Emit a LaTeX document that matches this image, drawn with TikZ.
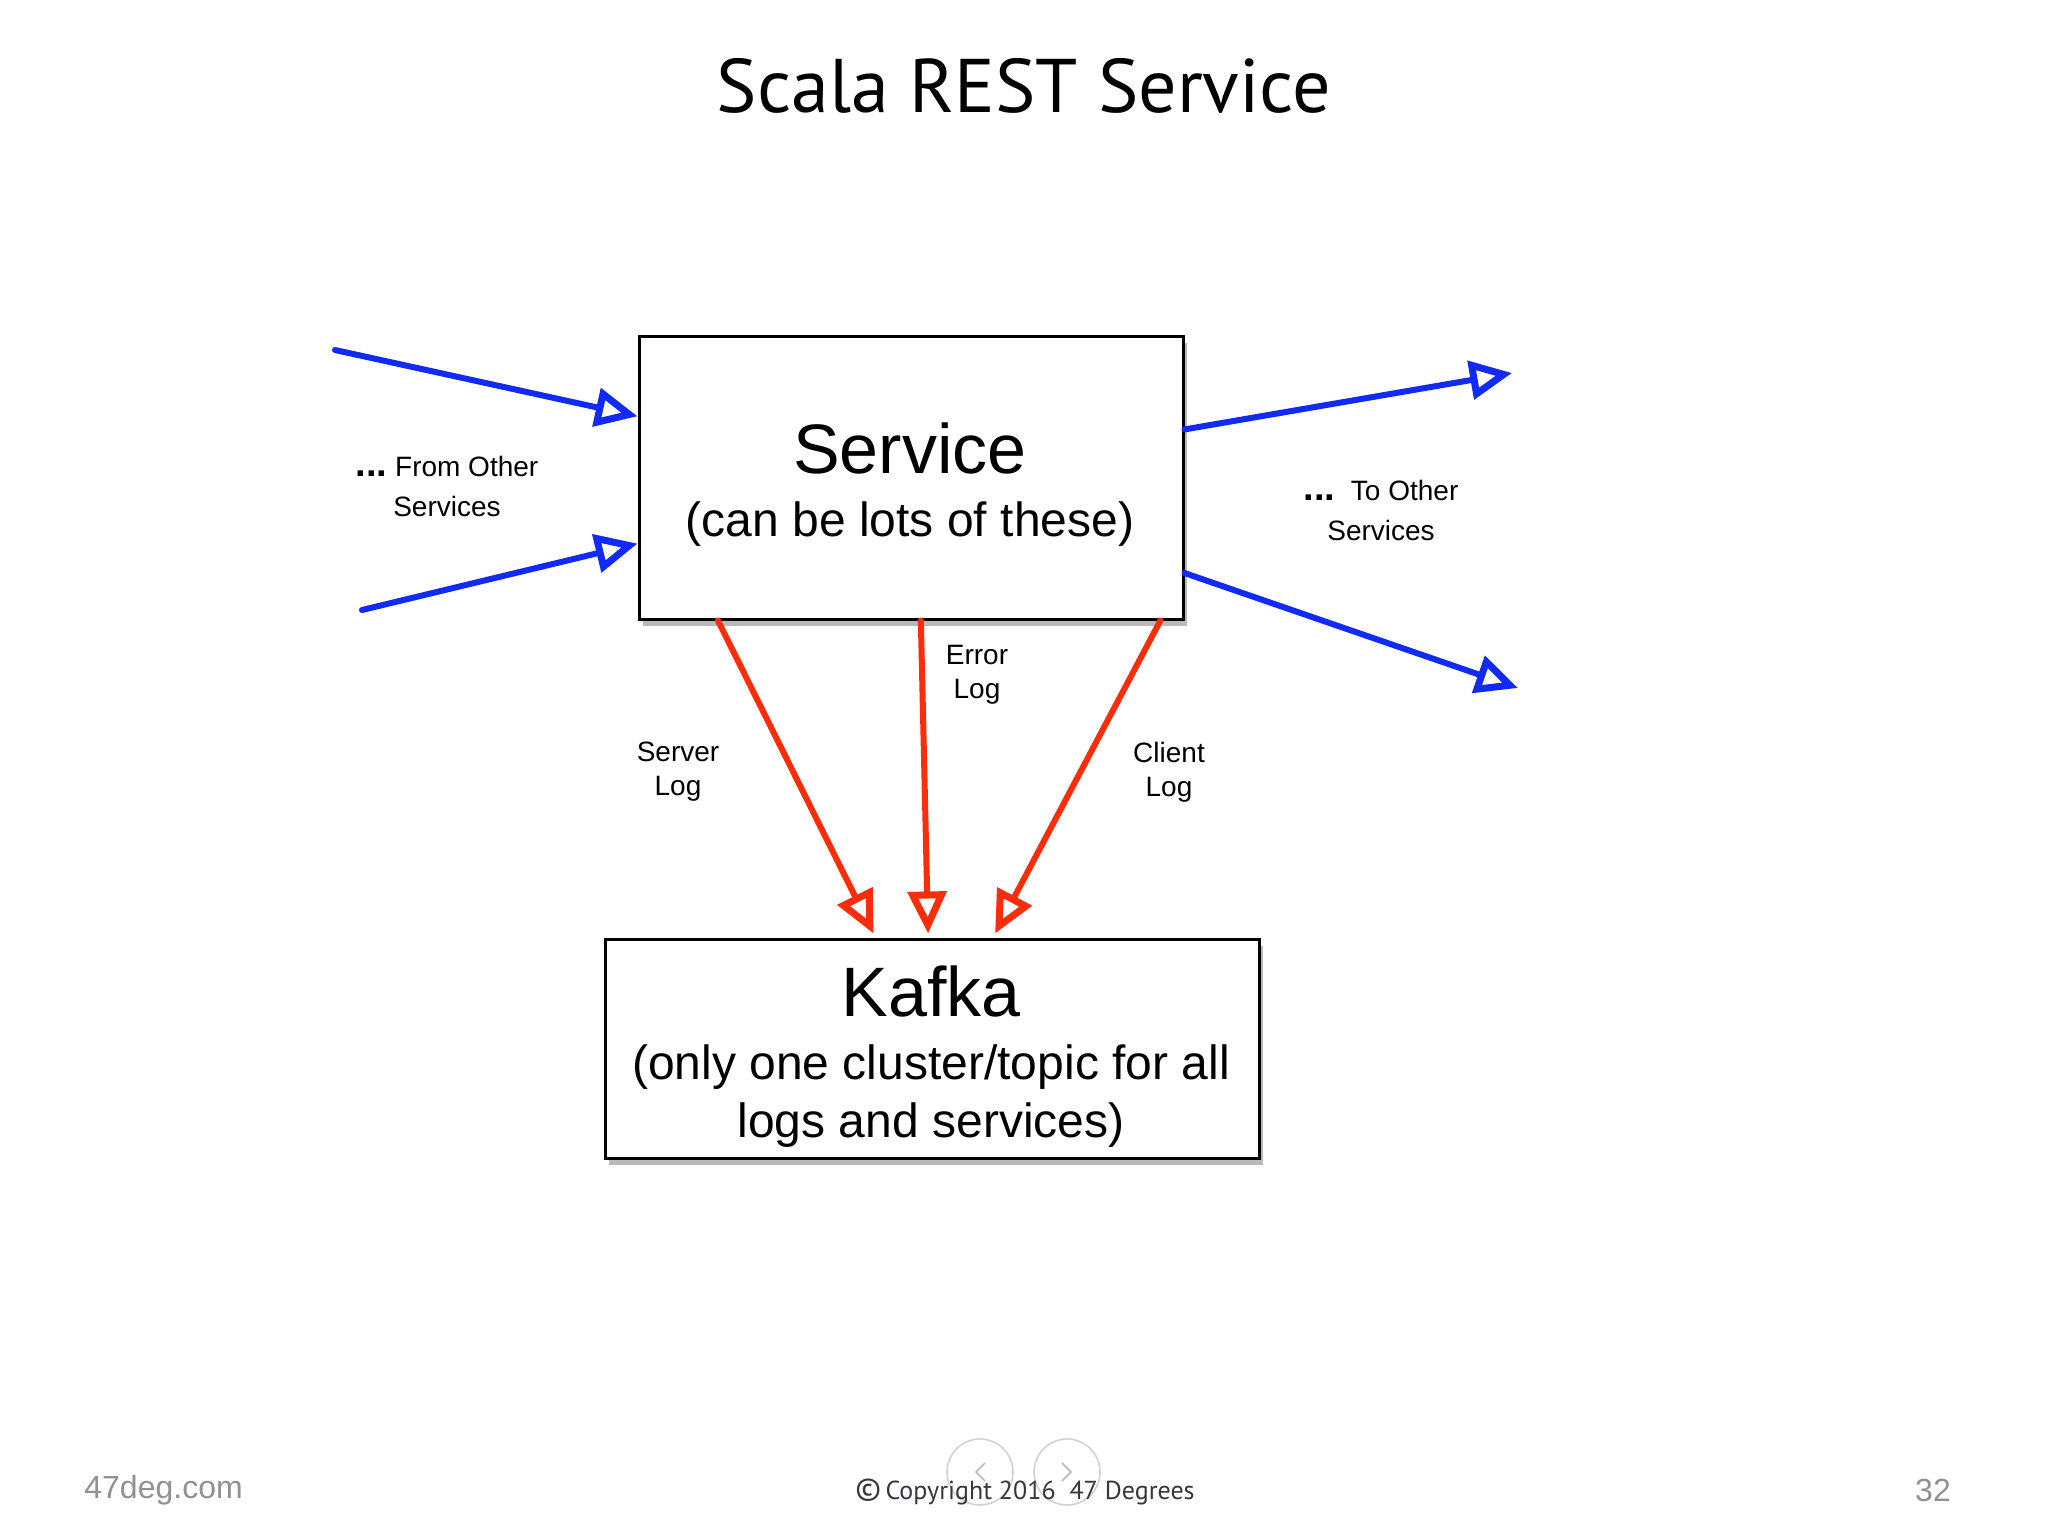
\documentclass[tikz,border=0pt]{standalone}
\usepackage{fontspec}
\setmainfont{Liberation Sans}
\newfontfamily\titlefont{PT Sans}
\usetikzlibrary{arrows.meta,shadows,calc}
\definecolor{flowblue}{RGB}{18,42,245}
\definecolor{logred}{RGB}{250,45,10}
\definecolor{footgray}{RGB}{145,145,145}
\definecolor{copygray}{RGB}{55,55,60}
\definecolor{navgray}{RGB}{210,210,210}
\tikzset{
  box/.style={draw=black, line width=1.5pt, fill=white, inner sep=0pt,
    drop shadow={shadow xshift=2pt, shadow yshift=-3.5pt, opacity=0.55}},
  flow/.style={draw=flowblue, line width=3pt, line cap=round,
    -{Triangle[open, length=21pt, width=19pt, line width=3.5pt]}},
  logflow/.style={draw=logred, line width=3pt, line cap=round,
    -{Triangle[open, length=21pt, width=19pt, line width=3.5pt]}},
  lbl/.style={font=\fontsize{14}{17}\selectfont, align=center, inner sep=0pt},
  sidelbl/.style={font=\fontsize{14}{20}\selectfont, align=center, inner sep=0pt},
  bigtxt/.style={font=\fontsize{35}{42}\selectfont, inner sep=0pt},
  midtxt/.style={font=\fontsize{24}{29}\selectfont, inner sep=0pt, align=center},
  foot/.style={font=\fontsize{16}{19}\selectfont, text=footgray, inner sep=0pt},
  navbtn/.style={draw=navgray, line width=0.8pt, circle, minimum size=33pt, inner sep=0pt},
}
\newcommand{\bigdots}{{\fontsize{19}{20}\selectfont\textbf{...}}}
\begin{document}
\begin{tikzpicture}[x=0.5pt,y=-0.5pt]
\useasboundingbox[fill=white] (0,0) rectangle (2048,1536);

% title
\node[font=\titlefont\fontsize{38}{46}\selectfont, inner sep=0pt] (title) at (1024,86) {Scala REST Service};

% boxes
\node[box, minimum width=272pt, minimum height=141.5pt] (svc) at (911,477.5) {};
\node[bigtxt] (svcname) at (910,448) {Service};
\node[midtxt] (svcsub) at (910,524) {(can be lots of these)};

\node[box, minimum width=327pt, minimum height=109.5pt] (kafka) at (932,1048.5) {};
\node[bigtxt] (kafkaname) at (931,991) {Kafka};
\node[midtxt] (kafkasub) at (931,1096) {(only one cluster/topic for all\\logs and services)};

% incoming blue
\coordinate (in1) at (335,350);
\coordinate (in2) at (362,610);
\draw[flow] (in1) -- ($(svc.north west)!0.286!(svc.south west)$);
\draw[flow] (in2) -- ($(svc.north west)!0.731!(svc.south west)$);
% outgoing blue
\coordinate (out1) at (1512,373);
\coordinate (out2) at (1518,688);
\draw[flow] ($(svc.north east)!0.332!(svc.south east)$) -- (out1);
\draw[flow] ($(svc.north east)!0.834!(svc.south east)$) -- (out2);

% red logs
\draw[logflow] ($(svc.south west)!0.147!(svc.south east)$) -- ($(kafka.north west)!0.411!(kafka.north east)+(0,-4)$);
\draw[logflow] ($(svc.south west)!0.518!(svc.south east)$) -- ($(kafka.north west)!0.494!(kafka.north east)+(0,-4)$);
\draw[logflow] ($(svc.south west)!0.956!(svc.south east)$) -- ($(kafka.north west)!0.596!(kafka.north east)+(0,-4)$);

% labels
\node[sidelbl] (fromlbl) at (447,486) {\bigdots\ From Other\\Services};
\node[sidelbl] (tolbl) at (1381,510) {\bigdots\ \ To Other\\Services};
\node[lbl] (errlbl) at (977,675) {Error\\Log};
\node[lbl] (srvlbl) at (678,772) {Server\\Log};
\node[lbl] (clilbl) at (1169,772) {Client\\Log};

% footer
\node[foot, anchor=west] (site) at (84,1490) {47deg.com};
\node[foot] (page) at (1933,1490) {32};
\node[navbtn] (prev) at (980,1472) {};
\node[navbtn] (next) at (1067,1472) {};
\draw[navgray!70!gray, line width=0.8pt] ($(prev.center)+(5,-9)$) -- ($(prev.center)+(-4,0)$) -- ($(prev.center)+(5,9)$);
\draw[navgray!70!gray, line width=0.8pt] ($(next.center)+(-5,-9)$) -- ($(next.center)+(4,0)$) -- ($(next.center)+(-5,9)$);
\node[font=\titlefont\fontsize{13}{16}\selectfont, text=copygray, inner sep=0pt] (copy) at (1025,1492) {{\fontsize{16}{16}\selectfont\textcopyright}\,Copyright 2016\ \ 47 Degrees};
\end{tikzpicture}
\end{document}
